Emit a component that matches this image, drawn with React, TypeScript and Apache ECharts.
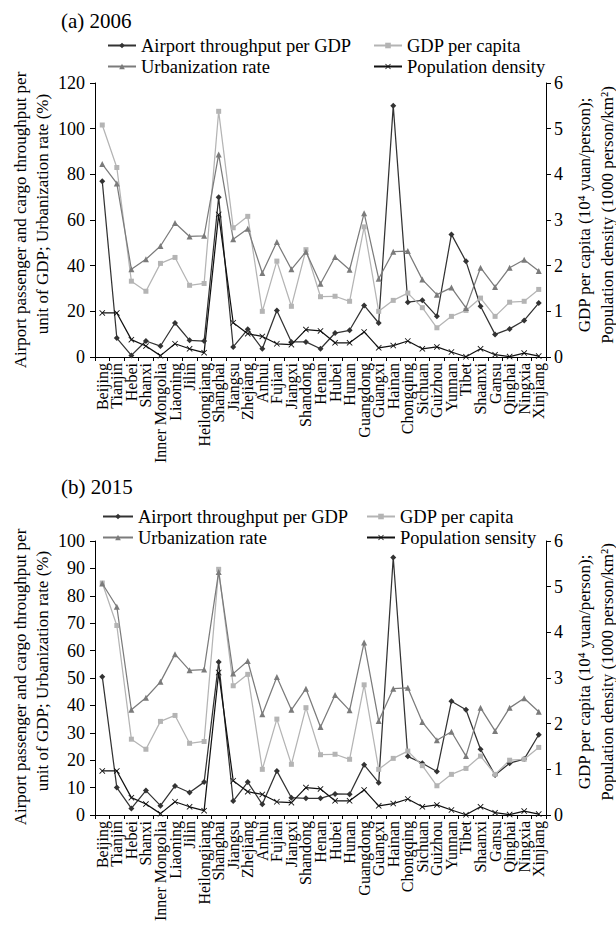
import React, { useEffect, useRef } from 'react';
import * as echarts from 'echarts';

const provinces = [
  'Beijing', 'Tianjin', 'Hebei', 'Shanxi', 'Inner Mongolia', 'Liaoning', 'Jilin', 'Heilongjiang',
  'Shanghai', 'Jiangsu', 'Zhejiang', 'Anhui', 'Fujian', 'Jiangxi', 'Shandong', 'Henan', 'Hubei',
  'Hunan', 'Guangdong', 'Guangxi', 'Hainan', 'Chongqing', 'Sichuan', 'Guizhou', 'Yunnan', 'Tibet',
  'Shaanxi', 'Gansu', 'Qinghai', 'Ningxia', 'Xinjiang',
];

// Left axis (%)
const airport2006 = [
  77, 8.3, 0.7, 7, 4.8, 14.9, 7.3, 7, 70, 4.4, 12.1, 3.6, 20.4, 6.6, 6.6, 3.6,
  10.5, 11.7, 22.6, 14.9, 110, 24, 24.8, 17.8, 53.7, 41.9, 22.2, 9.9, 12.3, 16, 23.6,
];
const airport2015 = [
  50.5, 10, 2.4, 8.9, 3.4, 10.6, 8.2, 12, 55.8, 5.1, 12, 3.9, 16.1, 6.3, 6.1, 6.1,
  7.7, 7.6, 18.3, 11.8, 94, 21.4, 18.9, 15.9, 41.5, 38.4, 24, 14.6, 18.9, 20.4, 29.3,
];
const urbanization = [
  84.5, 76, 38.4, 42.8, 48.6, 58.7, 52.8, 53.1, 88.7, 51.6, 56.2, 36.8, 50.4, 38.4, 46.1, 32.1,
  43.8, 38.2, 63, 34.3, 46.1, 46.4, 33.9, 27.3, 30.4, 21.5, 39.1, 30.7, 39.1, 42.6, 37.7,
];
// Right axis
const gdpPerCapita = [
  5.08, 4.15, 1.66, 1.44, 2.05, 2.18, 1.57, 1.61, 5.38, 2.83, 3.08, 1.0, 2.1, 1.11, 2.35, 1.32,
  1.33, 1.22, 2.85, 1.0, 1.24, 1.4, 1.08, 0.64, 0.89, 1.02, 1.29, 0.89, 1.2, 1.22, 1.48,
];
const popDensity = [
  0.965, 0.965, 0.38, 0.24, 0.03, 0.29, 0.18, 0.095, 3.12, 0.75, 0.51, 0.45, 0.29, 0.27, 0.6, 0.57,
  0.31, 0.31, 0.55, 0.2, 0.25, 0.35, 0.18, 0.22, 0.11, 0.005, 0.18, 0.05, 0.01, 0.085, 0.02,
];

const panelTitles = ['(a) 2006', '(b) 2015'];
const popNames = ['Population density', 'Population sensity'];
const leftMax = [120, 100];
const leftInterval = [20, 10];
const rightMax = 6;
const rightInterval = 1;

const FONT = "'Liberation Serif', 'Times New Roman', serif";
const X_MARK = 'path://M0,1L1,0L5,4L9,0L10,1L6,5L10,9L9,10L5,6L1,10L0,9L4,5Z';

const C_AIR = '#333333';
const C_GDP = '#b4b4b4';
const C_URB = '#7b7b7b';
const C_POP = '#111111';

const gridTops = [83, 541];
const GRID_H = 274;
const PANEL_OFF = 457;

function buildOption() {
  const grids = gridTops.map((t) => ({ left: 95, right: 70, top: t, height: GRID_H }));
  const xAxes = gridTops.map((_, i) => ({
    type: 'category',
    gridIndex: i,
    data: provinces,
    boundaryGap: true,
    axisLine: { lineStyle: { color: '#000', width: 1 } },
    axisTick: { show: true, length: 4, lineStyle: { color: '#000' } },
    axisLabel: {
      rotate: 90, interval: 0, margin: 6, color: '#000', fontFamily: FONT, fontSize: 16,
    },
    splitLine: { show: false },
  }));
  const yAxes: any[] = [];
  gridTops.forEach((_, i) => {
    yAxes.push({
      type: 'value', gridIndex: i, position: 'left', min: 0, max: leftMax[i], interval: leftInterval[i],
      axisLine: { show: true, lineStyle: { color: '#000' } },
      axisTick: { show: true, length: 5, lineStyle: { color: '#000' } },
      axisLabel: { color: '#000', fontFamily: FONT, fontSize: 18, margin: 10 },
      splitLine: { show: false },
    });
    yAxes.push({
      type: 'value', gridIndex: i, position: 'right', min: 0, max: rightMax, interval: rightInterval,
      axisLine: { show: true, lineStyle: { color: '#000' } },
      axisTick: { show: true, length: 5, lineStyle: { color: '#000' } },
      axisLabel: { color: '#000', fontFamily: FONT, fontSize: 18, margin: 8 },
      splitLine: { show: false },
    });
  });

  const series: any[] = [];
  const airports = [airport2006, airport2015];
  const LW = 1.25;
  gridTops.forEach((_, i) => {
    series.push({
      name: 'Airport throughput per GDP', type: 'line', xAxisIndex: i, yAxisIndex: 2 * i,
      data: airports[i], symbol: 'diamond', symbolSize: 6,
      lineStyle: { color: C_AIR, width: LW }, itemStyle: { color: C_AIR },
    });
    series.push({
      name: 'GDP per capita', type: 'line', xAxisIndex: i, yAxisIndex: 2 * i + 1,
      data: gdpPerCapita, symbol: 'rect', symbolSize: 5,
      lineStyle: { color: C_GDP, width: LW }, itemStyle: { color: C_GDP },
    });
    series.push({
      name: 'Urbanization rate', type: 'line', xAxisIndex: i, yAxisIndex: 2 * i,
      data: urbanization, symbol: 'triangle', symbolSize: 6,
      lineStyle: { color: C_URB, width: LW }, itemStyle: { color: C_URB },
    });
    series.push({
      name: popNames[i], type: 'line', xAxisIndex: i, yAxisIndex: 2 * i + 1,
      data: popDensity, symbol: X_MARK, symbolSize: 6,
      lineStyle: { color: C_POP, width: LW }, itemStyle: { color: C_POP },
    });
  });

  const legendItem = (name: string, left: number, top: number, w: number) => ({
    data: [name], left, top, itemWidth: w, itemHeight: 7, itemGap: 0, padding: 0,
    selectedMode: false,
    textStyle: { fontFamily: FONT, fontSize: 18.5, color: '#000' },
  });
  const legends = [
    legendItem('Airport throughput per GDP', 107, 36, 28),
    legendItem('GDP per capita', 373, 36, 28),
    legendItem('Urbanization rate', 107, 57, 28),
    legendItem(popNames[0], 373, 57, 28),
    legendItem('Airport throughput per GDP', 102, 507, 30),
    legendItem('GDP per capita', 366, 507, 28),
    legendItem('Urbanization rate', 102, 528, 30),
    legendItem(popNames[1], 366, 528, 28),
  ];

  const titles = panelTitles.map((t, i) => ({
    text: t, left: 61, top: i === 0 ? 10 : 476, padding: 0,
    textStyle: { fontFamily: FONT, fontSize: 21, fontWeight: 'normal', color: '#000' },
  }));

  const axisText = (text: string, x: number, y: number) => ({
    type: 'text', x, y, rotation: Math.PI / 2, silent: true,
    style: { text, fontFamily: FONT, fontSize: 17, fill: '#000', align: 'center', verticalAlign: 'middle' },
  });
  const graphics: any[] = [];
  [0, 1].forEach((i) => {
    const o = i * PANEL_OFF;
    graphics.push(axisText('Airport passenger and cargo throughput per', 20, 220 + o));
    graphics.push(axisText('unit of GDP; Urbanization rate (%)', 42, 214 + o));
    graphics.push(axisText('GDP per capita (10\u2074 yuan/person);', 584, 215 + o));
    graphics.push(axisText('Population density (1000 person/km\u00B2)', 607, 215 + o));
  });

  return {
    animation: false,
    backgroundColor: '#fff',
    title: titles,
    legend: legends,
    grid: grids,
    xAxis: xAxes,
    yAxis: yAxes,
    series,
    graphic: graphics,
  };
}

export default function App() {
  const ref = useRef<HTMLDivElement>(null);
  useEffect(() => {
    if (!ref.current) return;
    const chart = echarts.init(ref.current, undefined, { renderer: 'svg' });
    chart.setOption(buildOption() as any);
    return () => chart.dispose();
  }, []);
  return (
    <div
      ref={ref}
      style={{ position: 'absolute', left: 0, top: 0, width: 616, height: 926, background: '#fff' }}
    />
  );
}
